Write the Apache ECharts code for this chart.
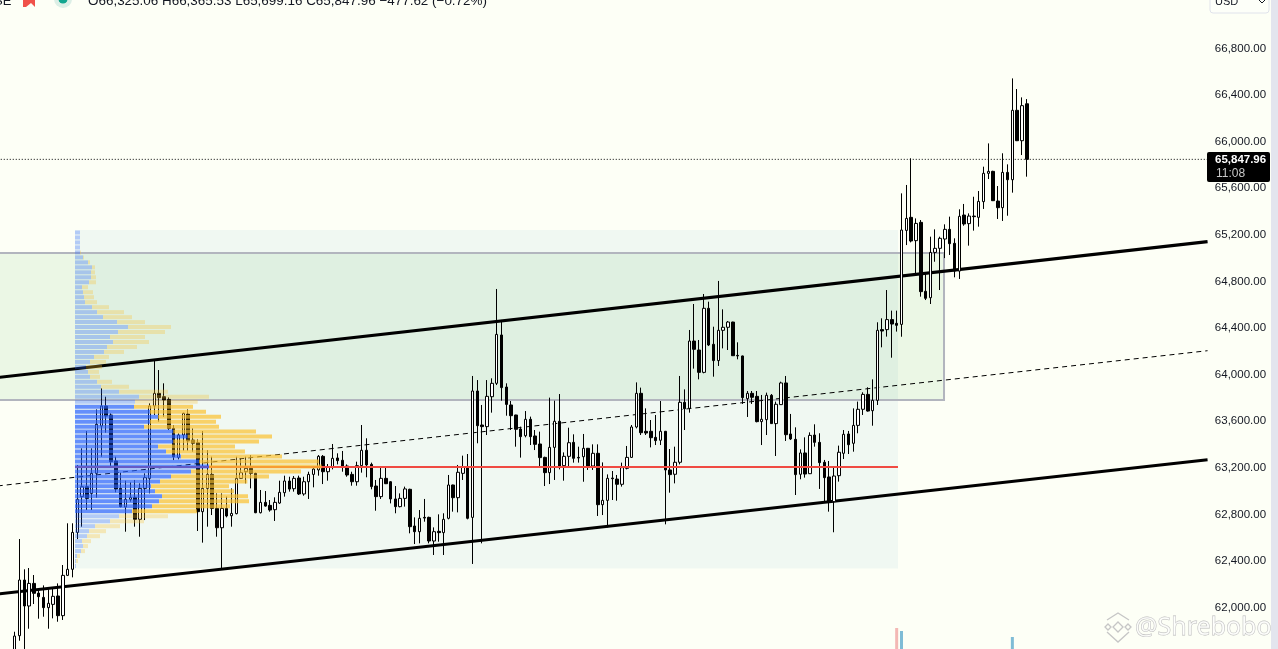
<!DOCTYPE html>
<html><head><meta charset="utf-8">
<style>html,body{margin:0;padding:0;background:#fdfff6;overflow:hidden}#c{width:1278px;height:649px}</style>
<script src="https://cdn.jsdelivr.net/npm/echarts@6/dist/echarts.min.js"></script>
</head><body><div id="c"></div>
<script>
const opens=[61549,61758,62236,62013,62207,62124,62087,61999,62027,62099,61930,62276,62328,62645,62952,63037,62980,63152,63558,63730,63653,63258,63023,62863,62929,62946,62757,63023,63109,63730,63839,63810,63787,63538,63289,63481,63661,63438,63415,62823,63023,63143,62851,62685,62851,62788,62806,63109,63166,63195,63152,62814,62903,62877,62840,62897,62986,63086,63020,63112,62975,63080,63143,63181,63298,63166,
63209,63284,63264,63215,63143,63080,63218,63350,63229,63043,62952,63109,63080,62932,62866,62937,63015,62700,62651,62774,62774,62571,62654,62643,62766,63052,62943,63152,63204,62774,63859,63567,63553,63810,63925,64340,63893,63739,63653,63533,63475,63616,63473,63404,63289,63158,63375,63599,63218,63298,63418,63289,63295,63367,63215,63324,62883,62920,63112,63103,63058,63195,63289,63550,63839,63513,63513,63461,
63436,63513,63181,63144,63247,63762,63710,64288,64211,64019,64569,64260,64120,64380,64406,64451,64165,64160,63793,63839,63813,63596,63613,63822,63579,63742,63928,63490,63444,63144,63327,63149,63481,63418,63247,63121,62909,63132,63324,63490,63410,63564,63702,63830,63690,63779,64386,64386,64472,64440,
64431,65238,65350,65150,65307,64715,64660,65049,65084,65164,65247,65127,64889,65370,65296,65361,65350,65485,65728,65745,65490,65433,65736,65673,66269,66008,66325.06];
const closes=[61755,62236,62013,62207,62122,62093,61999,62036,62096,61930,62276,62328,62645,62929,63037,62937,63152,63573,63730,63644,63252,63017,62866,62929,62946,62757,63023,63115,63730,63839,63802,63782,63538,63295,63481,63667,63430,63410,62823,63023,63143,62851,62685,62851,62786,62808,63109,63158,63195,63152,62814,62903,62871,62837,62903,62989,63086,63017,63109,62975,63080,63143,63189,63298,63166,63209,
63281,63261,63209,63138,63080,63218,63350,63224,63038,62952,63109,63063,62932,62866,62937,63018,62694,62651,62766,62768,62571,62651,62643,62757,63052,62943,63161,63204,62766,63859,63561,63553,63813,63925,64345,63888,63744,63647,63530,63467,63616,63467,63401,63287,63158,63375,63599,63209,63298,63415,63281,63284,63367,63215,63324,62883,62920,63109,63106,63058,63201,63289,63550,63839,63501,63498,63458,63433,
63513,63181,63141,63247,63762,63707,64288,64217,64019,64569,64254,64120,64380,64406,64451,64162,64160,63802,63839,63805,63596,63616,63822,63579,63745,63928,63484,63447,63141,63327,63146,63478,63418,63244,63115,62909,63129,63333,63487,63398,63564,63702,63830,63687,63779,64380,64374,64472,64434,64423,
65241,65341,65147,65298,64712,64655,65049,65084,65170,65247,65124,64889,65359,65293,65361,65356,65487,65728,65745,65493,65433,65736,65673,66269,66008,66309,65847.96];
const lows=[61492,61715,61644,61818,62030,61904,61921,61818,61907,61878,61893,62270,62259,62588,62694,62837,62837,62943,63295,63501,63215,62989,62860,62651,62909,62694,62608,62751,62980,63653,63596,63638,63524,63266,63272,63347,63347,63338,62657,62557,62694,62794,62608,62336,62774,62694,62800,63105,63066,63023,62810,62808,62866,62823,62743,62890,62952,62995,62995,62966,62960,62932,63032,63132,63060,63089,
63186,63229,63166,63123,63046,63046,63158,63118,63015,62831,62932,63060,62894,62809,62860,62866,62637,62545,62551,62737,62551,62451,62565,62451,62757,62823,62817,63095,62757,62374,63410,62551,63481,63673,63910,63776,63647,63524,63381,63287,63461,63395,63352,63215,63043,63060,63095,63186,63089,63209,63244,63244,63080,63181,63181,62786,62794,62688,62923,62917,63038,63186,63285,63538,63481,63481,63375,63395,
63395,62714,62986,63066,63229,63524,63673,64051,63959,64011,64245,63982,64074,64225,64211,64160,64131,63748,63636,63748,63590,63395,63481,63576,63301,63739,63430,63438,62966,63101,63115,63146,63381,63018,62915,62823,62646,63081,63275,63318,63338,63496,63653,63682,63561,63739,64234,64326,64145,64369,
64325,65112,65135,64869,64669,64640,64606,64969,64726,65000,65027,64835,64821,65278,65107,65236,65270,65422,65679,65490,65336,65319,65364,65562,66005,65885,65699.16];
const highs=[61792,62588,62328,62339,62279,62150,62190,62156,62165,62207,62365,62723,62723,63223,63367,63515,63367,63701,63882,63810,63667,63295,63158,63089,63075,63095,63066,63152,63753,64125,64039,63925,63804,63567,63495,63673,63701,63538,63444,63515,63352,63295,62980,62980,62952,63023,63295,63281,63295,63309,63158,63009,63000,62923,62946,63089,63132,63123,63129,63132,63123,63166,63215,63309,63309,63232,
63404,63324,63344,63229,63166,63252,63567,63453,63244,63095,63201,63201,63085,63043,62980,63038,63020,62774,62837,62932,62780,62688,62800,62809,63138,63055,63224,63304,63318,63988,63953,63739,63953,63968,64735,64469,63925,63773,63655,63553,63687,63639,63524,63510,63295,63802,63776,63833,63332,63544,63487,63381,63490,63370,63401,63401,63246,63143,63172,63138,63244,63387,63567,63933,63888,63710,63610,63653,
63773,63516,63361,63381,63988,63873,64383,64606,64297,64692,64626,64411,64804,64560,64460,64454,64277,64163,63859,63859,63859,63825,63845,63833,63768,63939,63988,63662,63547,63358,63461,63504,63573,63496,63267,63258,63209,63390,63524,63516,63710,63768,63848,63891,63959,64449,64483,64726,64549,64549,
65556,65628,65857,65341,65327,64869,65184,65247,65184,65290,65356,65170,65419,65465,65384,65527,65576,65785,65985,65750,65619,65900,65805,66543,66452,66380,66365.53];

const priceTicks={min:61600,max:67600,step:400};
const lastPrice=65847.96;
const pocPrice=63206;
const vpUp=[15,15,15,15,15,24,39,51,48,48,42,21,24,27,30,51,66,84,126,159,129,105,114,96,87,57,45,33,39,45,66,78,132,192,180,177,225,249,225,207,295,338,295,249,273,318,372,402,348,288,255,228,240,261,252,231,171,132,105,60,42,36,21,24,18,6,3,3];
const vpDown=[0,0,0,0,3,3,6,9,12,15,21,18,30,30,36,51,81,87,84,129,141,105,108,90,60,45,48,48,33,30,45,84,147,210,188,177,168,189,198,225,248,253,257,231,237,303,360,338,330,294,262,234,237,258,270,234,195,147,102,75,51,39,27,15,12,9,6,0];
const valueAreaRows=[35,56];
const upperChannel=[[-3.5,63975],[247.5,65141]];
const midChannel=[[-3.5,63044],[247.5,64205]];
const lowerChannel=[[-3.5,62116],[247.5,63269]];
const profileBox=[12.53,183.27,65241,62335];
const zoneBox=[-5,192.82,65044,63782];
const pocSpan=[12.53,183.27];
const volumeBars=[[186,21,'#f3b8b4'],[187,18,'#7fbcd6'],[210,12,'#7fbcd6']];
const headerText='O66,325.06 H66,365.53 L65,699.16 C65,847.96 \u2212477.62 (\u22120.72%)';

const PAD=3, SLOTS=251;
const cats=Array.from({length:SLOTS},(_,i)=>String(i));
const candleData=Array.from({length:PAD},()=>['-','-','-','-']).concat(opens.map((o,i)=>[o,closes[i],lows[i],highs[i]]));
const fmt=v=>v.toLocaleString('en-US',{minimumFractionDigits:2,maximumFractionDigits:2});
const FONT='"Liberation Sans"';
const G={left:-2.25,width:1209.82};
const rectSeries=(box,style,z)=>({type:'custom',xAxisIndex:1,yAxisIndex:0,z,silent:true,clip:true,animation:false,
  data:[box],encode:{x:[0,1],y:[2,3]},
  renderItem:(p,api)=>{const a=api.coord([api.value(0),api.value(2)]),b=api.coord([api.value(1),api.value(3)]);
    return {type:'rect',shape:{x:a[0],y:a[1],width:b[0]-a[0],height:b[1]-a[1]},style};}});
const lineSeries=(data,color,width,type,z)=>({type:'line',xAxisIndex:1,yAxisIndex:0,data,z,silent:true,showSymbol:false,symbol:'none',animation:false,lineStyle:{color,width,type}});
const inVA=i=>i>=valueAreaRows[0]&&i<=valueAreaRows[1];
const wm='#c6c6c6';
const wmPoly=(pts,closed)=>({type:closed?'polygon':'polyline',z:52,shape:{points:pts},style:{fill:'none',stroke:wm,lineWidth:1.3}});

const chart=echarts.init(document.getElementById('c'),null,{renderer:'canvas'});
chart.setOption({
  animation:false,backgroundColor:'#fdfff6',
  grid:[{left:G.left,width:G.width,top:-44.7,height:698.8,outerBoundsMode:'none'},{left:75,width:823,top:230,height:338.5,outerBoundsMode:'none'},{left:G.left,width:G.width,top:600,height:49,outerBoundsMode:'none'}],
  xAxis:[
    {type:'category',data:cats,gridIndex:0,show:false},
    {type:'value',gridIndex:0,min:-PAD-0.5,max:SLOTS-PAD-0.5,show:false},
    {type:'value',gridIndex:1,min:0,max:2469,show:false},
    {type:'category',data:cats,gridIndex:2,show:false}],
  yAxis:[
    {type:'value',gridIndex:0,position:'right',min:priceTicks.min,max:priceTicks.max,interval:priceTicks.step,
     splitLine:{show:false},axisLine:{show:false},axisTick:{show:false},
     axisLabel:{inside:false,margin:7.3,padding:[1,0,0,0],color:'#131722',fontFamily:FONT,fontSize:11.5,align:'left',showMinLabel:false,showMaxLabel:false,
       formatter:v=>(v>66800?'':fmt(v))}},
    {type:'category',gridIndex:1,inverse:true,data:vpUp.map((_,i)=>String(i)),show:false},
    {type:'value',gridIndex:2,min:0,max:49,show:false}],
  series:[
    rectSeries(profileBox,{fill:'rgba(40,140,180,0.06)'},1),
    rectSeries(zoneBox,{fill:'rgba(76,175,80,0.1)',stroke:'#b2b5be',lineWidth:2},2),
    lineSeries(midChannel,'#000',1,[5,4],3),
    lineSeries(upperChannel,'#000',3.2,'solid',3),
    lineSeries(lowerChannel,'#000',3.2,'solid',3),
    lineSeries([[-3.5,lastPrice],[247.5,lastPrice]],'#000',1,[1,2],3),
    {type:'candlestick',xAxisIndex:0,yAxisIndex:0,data:candleData,z:5,barWidth:3,silent:true,animation:false,
     itemStyle:{color:'#ffffff',color0:'#000000',borderColor:'#000000',borderColor0:'#000000',borderWidth:1}},
    lineSeries([[pocSpan[0],pocPrice],[pocSpan[1],pocPrice]],'#f04a42',2,'solid',6),
    {type:'bar',xAxisIndex:2,yAxisIndex:1,stack:'vp',barWidth:4,z:7,silent:true,animation:false,
     data:vpUp.map((v,i)=>({value:v,itemStyle:{color:inVA(i)?'rgba(41,98,255,0.7)':'rgba(41,98,255,0.3)'}}))},
    {type:'bar',xAxisIndex:2,yAxisIndex:1,stack:'vp',barWidth:4,z:7,silent:true,animation:false,
     data:vpDown.map((v,i)=>({value:v,itemStyle:{color:inVA(i)?'rgba(251,192,45,0.7)':'rgba(251,192,45,0.3)'}}))},
    {type:'bar',xAxisIndex:3,yAxisIndex:2,barWidth:3,z:4,silent:true,animation:false,
     data:volumeBars.map(b=>({value:[b[0],b[1]],itemStyle:{color:b[2]}}))}
  ],
  graphic:[
    {type:'rect',z:50,shape:{x:1271,y:0,width:7,height:649},style:{fill:'#e3e5ee'}},
    {type:'rect',z:50,shape:{x:1210,y:-12,width:59,height:25,r:3},style:{fill:'#fdfff9',stroke:'#e0e3eb',lineWidth:1}},
    {type:'text',z:51,style:{x:1215,y:2,text:'USD',fill:'#131722',font:'11px '+FONT,textVerticalAlign:'middle'}},
    {type:'polyline',z:51,shape:{points:[[1259,0],[1262,3],[1265,0]]},style:{stroke:'#131722',lineWidth:1,fill:'none'}},
    {type:'rect',z:50,shape:{x:1207,y:152,width:63,height:30,r:2},style:{fill:'#000'}},
    {type:'text',z:51,style:{x:1215,y:160,text:fmt(lastPrice),fill:'#fff',font:'bold 11.5px '+FONT,textVerticalAlign:'middle'}},
    {type:'text',z:51,style:{x:1216,y:174,text:'11:08',fill:'#c8c8c8',font:'12px '+FONT,textVerticalAlign:'middle'}},
    {type:'text',z:51,style:{x:-6,y:1,text:'SE',fill:'#131722',font:'13px '+FONT,textVerticalAlign:'middle'}},
    {type:'polygon',z:51,shape:{points:[[23,-2],[35,-2],[35,7],[31,3],[26,7],[23,7]]},style:{fill:'#f0524a'}},
    {type:'circle',z:50,shape:{cx:63,cy:-1,r:9},style:{fill:'#dcefe6'}},
    {type:'circle',z:51,shape:{cx:63,cy:-1,r:4.5},style:{fill:'#12a68f'}},
    {type:'text',z:51,style:{x:88,y:1,text:headerText,fill:'#131722',font:'13.45px '+FONT,textVerticalAlign:'middle'}},
    {type:'text',z:52,style:{x:1135,y:628,text:'@Shrebobo',fill:'rgba(255,255,255,0.65)',stroke:'#b9b9b9',lineWidth:0.8,font:'25px "Noto Sans"',textVerticalAlign:'middle'}},
    wmPoly([[1107,620],[1118,613],[1129,620]],false),
    wmPoly([[1107,632],[1118,642],[1129,632]],false),
    wmPoly([[1118,622],[1123,627],[1118,632],[1113,627]],true),
    wmPoly([[1108,624],[1111,627],[1108,630],[1105,627]],true),
    wmPoly([[1128,624],[1131,627],[1128,630],[1125,627]],true)
  ]
});
</script></body></html>
